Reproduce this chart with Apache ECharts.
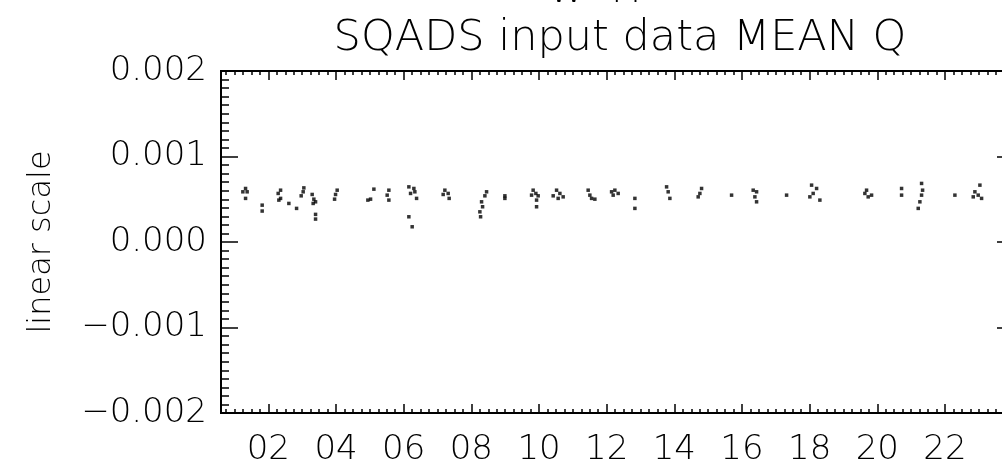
<!DOCTYPE html>
<html>
    <head>
        <meta charset="utf-8">
        <title>SQADS input data MEAN Q</title>
        <script src="https://cdn.jsdelivr.net/npm/echarts@6/dist/echarts.min.js"></script>
        <style>
            html, body { margin: 0; padding: 0; background: #fff; overflow: hidden; }
        </style>
    </head>
    <body>
        <!-- the plot box runs a little past the right edge of the window, as in the original -->
        <div id="main" style="width: 1014px;height: 475px;"></div>

        <script>
            // hour of day for each sample, and the mean Q value
            let hours = [
                1.326, 1.246, 1.373, 1.326, 1.817, 1.817,
                2.361, 2.290, 2.361, 2.310, 2.606, 2.834,
                3.049, 3.029, 2.970, 3.295, 3.345, 3.395, 3.324, 3.395, 3.395,
                4.034, 3.986, 3.957,
                5.119, 5.021, 4.941, 5.562, 5.512, 5.562,
                6.153, 6.301, 6.203, 6.330, 6.381, 6.153, 6.251,
                7.217, 7.315, 7.167, 7.344,
                8.450, 8.400, 8.302, 8.332, 8.252, 8.273, 8.991, 8.991,
                9.827, 9.907, 9.780, 9.975, 9.928, 9.928,
                10.519, 10.617, 10.419, 10.714, 10.566,
                11.453, 11.503, 11.554, 11.651,
                12.145, 12.242, 12.340, 12.192, 12.834, 12.834,
                13.771, 13.818, 13.868,
                14.805, 14.755, 14.705,
                15.692,
                16.331, 16.431, 16.381, 16.431,
                17.318,
                18.057, 18.205, 18.104, 18.006, 18.302,
                19.682, 19.632, 19.830, 19.730,
                20.717, 20.717,
                21.308, 21.338, 21.308, 21.258, 21.209,
                22.293,
                23.032, 22.884, 22.982, 23.082, 22.835
            ];
            let meanQ = [
                0.000626, 0.000587, 0.000587, 0.000510, 0.000431, 0.000362,
                0.000606, 0.000568, 0.000510, 0.000490, 0.000451, 0.000393,
                0.000633, 0.000587, 0.000540, 0.000556, 0.000501, 0.000470, 0.000451, 0.000323, 0.000268,
                0.000606, 0.000556, 0.000501,
                0.000618, 0.000501, 0.000490, 0.000606, 0.000548, 0.000490,
                0.000645, 0.000626, 0.000568, 0.000587, 0.000510, 0.000295, 0.000178,
                0.000606, 0.000568, 0.000556, 0.000510,
                0.000587, 0.000540, 0.000470, 0.000412, 0.000353, 0.000295, 0.000540, 0.000510,
                0.000606, 0.000568, 0.000548, 0.000540, 0.000490, 0.000412,
                0.000606, 0.000568, 0.000540, 0.000528, 0.000510,
                0.000606, 0.000548, 0.000510, 0.000501,
                0.000587, 0.000606, 0.000568, 0.000548, 0.000510, 0.000393,
                0.000645, 0.000587, 0.000510,
                0.000626, 0.000568, 0.000528,
                0.000548,
                0.000606, 0.000587, 0.000528, 0.000470,
                0.000548,
                0.000665, 0.000626, 0.000568, 0.000528, 0.000490,
                0.000606, 0.000568, 0.000548, 0.000528,
                0.000626, 0.000548,
                0.000685, 0.000606, 0.000548, 0.000470, 0.000393,
                0.000548,
                0.000665, 0.000587, 0.000548, 0.000510, 0.000528
            ];
            let xTicks = [2, 4, 6, 8, 10, 12, 14, 16, 18, 20, 22];
            let yTicks = [-0.002, -0.001, 0, 0.001, 0.002];

            let xMin = 0.6, xMax = 24.04;
            let yMin = -0.002, yMax = 0.002;

            // minor tick positions: every 15 min and every 0.0001
            let xMinor = [];
            for (let i = 3; i * 0.25 <= xMax; i++) xMinor.push(i * 0.25);
            let yMinor = [];
            for (let i = -20; i <= 20; i++) yMinor.push(i / 10000);

            let points = hours.map(function (h, i) { return [h, meanQ[i]]; });

            let font = 'DejaVu Sans';
            let axisLine = { show: true, onZero: false, lineStyle: { color: '#000', width: 2 } };

            function xAx(pos, ticks, len, labels) {
                return {
                    type: 'value', position: pos, min: xMin, max: xMax,
                    axisLine: axisLine,
                    axisTick: { show: true, inside: true, length: len, customValues: ticks,
                        lineStyle: { color: '#000', width: 1.5 } },
                    axisLabel: labels ? {
                        show: true, customValues: xTicks, margin: 20,
                        color: '#000', fontFamily: font, fontSize: 34, fontWeight: 200,
                        formatter: function (v) { return (v < 10 ? '0' : '') + v; }
                    } : { show: false },
                    splitLine: { show: false }
                };
            }
            function yAx(pos, ticks, len, labels) {
                let ax = {
                    type: 'value', position: pos, min: yMin, max: yMax,
                    axisLine: axisLine,
                    axisTick: { show: true, inside: true, length: len, customValues: ticks,
                        lineStyle: { color: '#000', width: 1.5 } },
                    axisLabel: { show: false },
                    splitLine: { show: false }
                };
                if (labels) {
                    ax.axisLabel = {
                        show: true, customValues: yTicks, margin: 14,
                        color: '#000', fontFamily: font, fontSize: 34, fontWeight: 200,
                        formatter: function (v) {
                            let r = Math.round(v * 1000) / 1000;
                            return (r < 0 ? '\u2212' : '') + Math.abs(r).toFixed(3);
                        }
                    };
                    ax.name = 'linear scale';
                    ax.nameLocation = 'middle';
                    ax.nameGap = 163;
                    ax.nameTextStyle = { color: '#000', fontFamily: font, fontSize: 32, fontWeight: 200 };
                }
                return ax;
            }

            var option = {
                backgroundColor: '#fff',
                animation: false,
                title: {
                    text: 'SQADS input data MEAN Q',
                    left: 615,
                    textAlign: 'center',
                    top: 12,
                    textStyle: { color: '#000', fontFamily: font, fontSize: 43, fontWeight: 200 }
                },
                graphic: [{
                    // upper title line, cut off by the top of the picture
                    type: 'text', x: 548, y: 11,
                    style: { text: 'W  M', fill: '#000', verticalAlign: 'bottom',
                        font: '200 38px "DejaVu Sans"' }
                }],
                grid: {
                    left: 221,
                    right: 0,
                    top: 71,
                    bottom: 62,
                    containLabel: false
                },
                xAxis: [
                    xAx('bottom', xTicks, 9, true),
                    xAx('bottom', xMinor, 4, false),
                    xAx('top', xTicks, 9, false),
                    xAx('top', xMinor, 4, false)
                ],
                yAxis: [
                    yAx('left', yTicks, 17, true),
                    yAx('left', yMinor, 8, false),
                    yAx('right', yTicks, 17, false),
                    yAx('right', yMinor, 8, false)
                ],
                series: [
                    {
                        name: 'MEAN Q',
                        type: 'scatter',
                        xAxisIndex: 0,
                        yAxisIndex: 0,
                        symbol: 'rect',
                        symbolSize: 3.5,
                        itemStyle: { color: '#000' },
                        data: points
                    }
                ]
            };
            let chart = echarts.init(document.getElementById('main'));
            chart.setOption(option);
        </script>
    </body>
</html>
